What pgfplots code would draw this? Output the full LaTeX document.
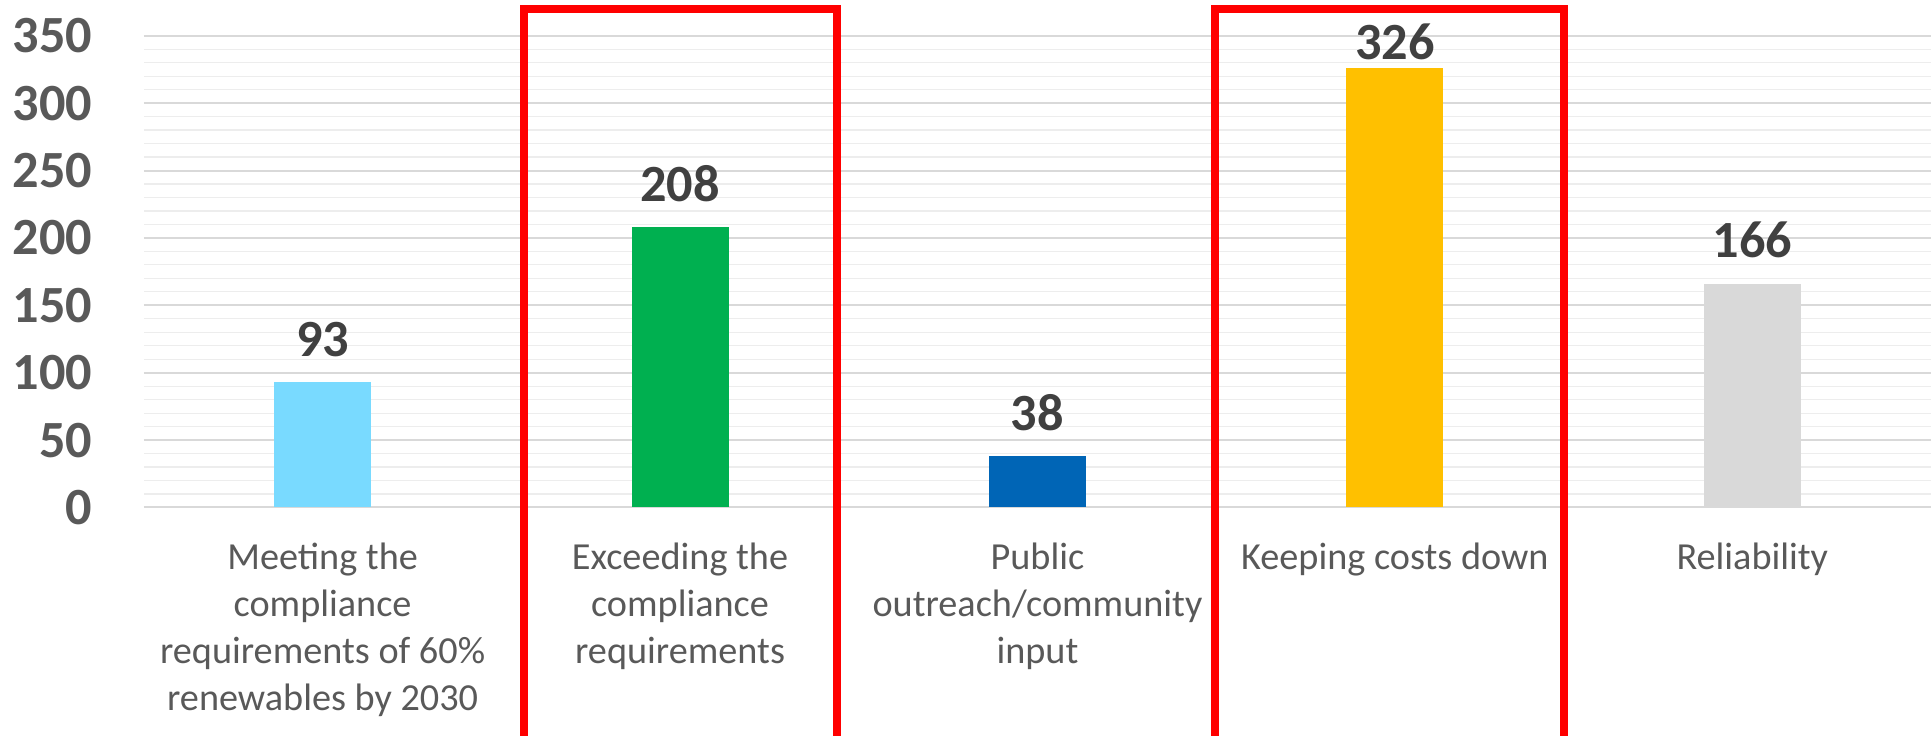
\documentclass[border=0pt]{standalone}
\usepackage{pgfplots}
\pgfplotsset{compat=1.18}
\usepackage{fontspec}
\setmainfont{Carlito}
\definecolor{tickgray}{HTML}{595959}
\definecolor{lblgray}{HTML}{404040}
\definecolor{majgrid}{HTML}{D9D9D9}
\definecolor{mingrid}{HTML}{EDEDED}
\definecolor{cLB}{HTML}{79DAFF}
\definecolor{cGR}{HTML}{00B050}
\definecolor{cBL}{HTML}{0065B6}
\definecolor{cYE}{HTML}{FFC000}
\definecolor{cGY}{HTML}{D9D9D9}
\definecolor{boxred}{HTML}{FF0000}
\begin{document}
\begin{tikzpicture}
\begin{axis}[
  scale only axis, width=714.8pt, height=188.7pt,
  xmin=-0.5, xmax=4.5, ymin=0, ymax=350,
  ybar, bar width=38.8pt,
  /pgf/number format/assume math mode=true,
  xtick={0,1,2,3,4},
  xticklabels={{Meeting the\\compliance\\requirements of 60\%\\renewables by 2030},
               {Exceeding the\\compliance\\requirements},
               {Public\\outreach/community\\input},
               {Keeping costs down},
               {Reliability}},
  xticklabel style={font=\fontsize{15.3}{18.9}\selectfont, text=tickgray, align=center, anchor=north, inner sep=0pt, yshift=-9.6pt},
  xtick style={draw=none},
  extra x ticks={-0.5,0.5,1.5,2.5,3.5,4.5},
  extra x tick labels={},
  extra x tick style={major tick length=5pt, tick align=outside, tick style={draw=majgrid, line width=0.8pt}, grid=none},
  ytick={0,50,...,350},
  minor y tick num=4,
  ymajorgrids, yminorgrids,
  major grid style={draw=majgrid, line width=0.8pt},
  minor grid style={draw=mingrid, line width=0.5pt},
  ytick style={draw=none},
  minor tick length=0pt,
  yticklabel style={font=\fontsize{20.9}{25}\selectfont\bfseries, text=tickgray, anchor=east, inner sep=0pt, xshift=-20.4pt},
  axis x line*=bottom, axis y line*=left,
  x axis line style={draw=majgrid, line width=0.8pt, -},
  y axis line style={draw=none},
  clip=false,
  nodes near coords,
  nodes near coords style={font=\fontsize{20.9}{25}\selectfont\bfseries, text=lblgray, anchor=south, inner sep=0pt, yshift=10pt},
]
\addplot[fill=cLB, draw=none, bar shift=0pt] coordinates {(0,93)};
\addplot[fill=cGR, draw=none, bar shift=0pt] coordinates {(1,208)};
\addplot[fill=cBL, draw=none, bar shift=0pt] coordinates {(2,38)};
\addplot[fill=cYE, draw=none, bar shift=0pt, nodes near coords style={yshift=-6.9pt}] coordinates {(3,326)};
\addplot[fill=cGY, draw=none, bar shift=0pt] coordinates {(4,166)};
\draw[boxred, line width=3.1pt, line join=miter] (axis cs:0.564,-175) -- (axis cs:0.564,369.8) -- (axis cs:1.440,369.8) -- (axis cs:1.440,-175);
\draw[boxred, line width=3.1pt, line join=miter] (axis cs:2.497,-175) -- (axis cs:2.497,369.8) -- (axis cs:3.473,369.8) -- (axis cs:3.473,-175);
\coordinate (bbSW) at (axis cs:-0.9026,-169.5);
\coordinate (bbNE) at (axis cs:4.5,376.5);
\end{axis}
\pgfresetboundingbox
\path[use as bounding box] (bbSW) rectangle (bbNE);
\end{tikzpicture}
\end{document}
